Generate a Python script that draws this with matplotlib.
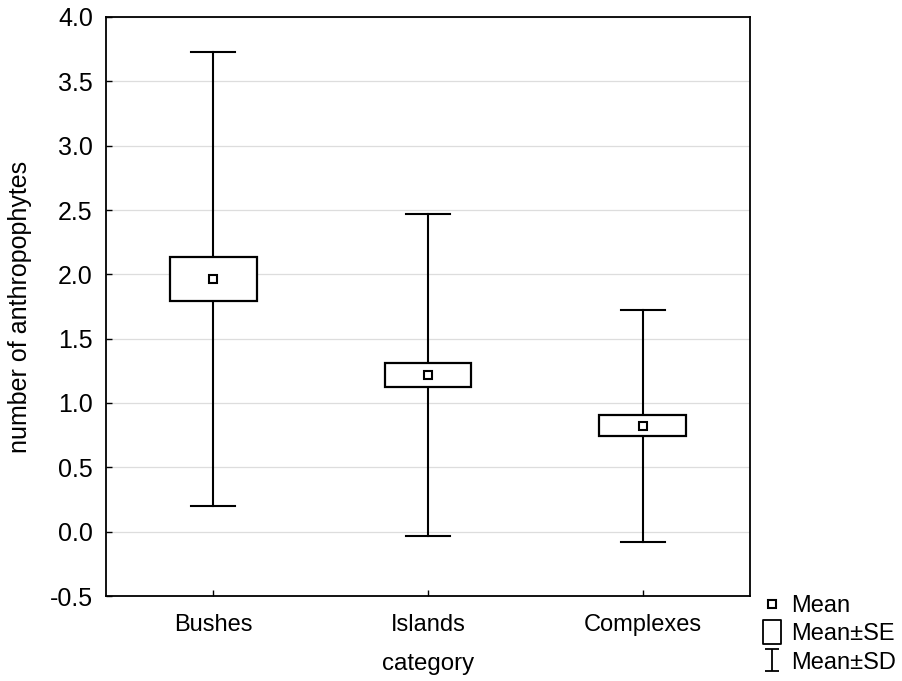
import numpy as np
import matplotlib
matplotlib.use("Agg")
import matplotlib.pyplot as plt
from matplotlib.patches import Rectangle
from matplotlib.lines import Line2D
from matplotlib.path import Path

plt.rcParams['font.family'] = ['Liberation Sans', 'DejaVu Sans']

# datos
categories = ["Bushes", "Islands", "Complexes"]
means = [1.965, 1.218, 0.823]
se = [0.172, 0.094, 0.082]
sd = [1.765, 1.253, 0.903]

fig = plt.figure(figsize=(9.03, 6.81), dpi=100)
ax = fig.add_axes([106 / 903, 1 - 596 / 681, 644 / 903, 579 / 681])

x = np.arange(len(categories))
box_w = 0.405
cap_w = 0.205

for xi, m, s, d in zip(x, means, se, sd):
    # bigotes (media +- DE)
    ax.plot([xi, xi], [m - d, m + d], color='black', lw=1.5, zorder=2)
    ax.plot([xi - cap_w / 2, xi + cap_w / 2], [m + d, m + d], color='black', lw=1.5, zorder=2)
    ax.plot([xi - cap_w / 2, xi + cap_w / 2], [m - d, m - d], color='black', lw=1.5, zorder=2)
    # caja (media +- EE)
    ax.add_patch(Rectangle((xi - box_w / 2, m - s), box_w, 2 * s,
                           facecolor='white', edgecolor='black', lw=1.6, zorder=3))
    # media
    ax.plot(xi, m, marker='s', ms=6, mfc='white', mec='black', mew=1.5, zorder=4)

ax.set_xlim(-0.5, 2.5)
ax.set_ylim(-0.5, 4.0)
ax.set_xticks(x)
ax.set_xticklabels(categories)
ax.set_yticks(np.arange(-0.5, 4.01, 0.5))
ax.set_yticklabels([f"{v:.1f}" for v in np.arange(-0.5, 4.01, 0.5)])
ax.tick_params(direction='in', length=4, width=1)
ax.tick_params(axis='x', labelsize=17, pad=13)
ax.tick_params(axis='y', labelsize=18, pad=9.5)
ax.yaxis.grid(True, color='#dddddd', lw=0.9)
ax.set_axisbelow(True)
for sp in ax.spines.values():
    sp.set_linewidth(1.3)

ax.set_xlabel("category", fontsize=17.3, labelpad=12)
ax.set_ylabel("number of anthropophytes", fontsize=18, labelpad=13)

# leyenda con marcadores propios
rect_path = Path([(-0.75, -1), (0.75, -1), (0.75, 1), (-0.75, 1), (-0.75, -1)],
                 [Path.MOVETO, Path.LINETO, Path.LINETO, Path.LINETO, Path.CLOSEPOLY])
ibeam = Path([(-0.6, 1), (0.6, 1), (0, 1), (0, -1), (-0.6, -1), (0.6, -1)],
             [Path.MOVETO, Path.LINETO, Path.MOVETO, Path.LINETO, Path.MOVETO, Path.LINETO])
handles = [
    Line2D([], [], ls='none', marker='s', ms=6, mfc='white', mec='black', mew=1.5),
    Line2D([], [], ls='none', marker=rect_path, ms=17, mfc='white', mec='black', mew=1.3),
    Line2D([], [], ls='none', marker=ibeam, ms=16, mfc='none', mec='black', mew=1.3),
]
fig.legend(handles, ["Mean", "Mean\u00b1SE", "Mean\u00b1SD"], loc='upper left',
           bbox_to_anchor=(760 / 903, 1 - 595 / 681), frameon=False, fontsize=17,
           handlelength=1.0, handletextpad=0.3, labelspacing=0.27, borderpad=0,
           borderaxespad=0)

fig.savefig("out.png", dpi=100)
